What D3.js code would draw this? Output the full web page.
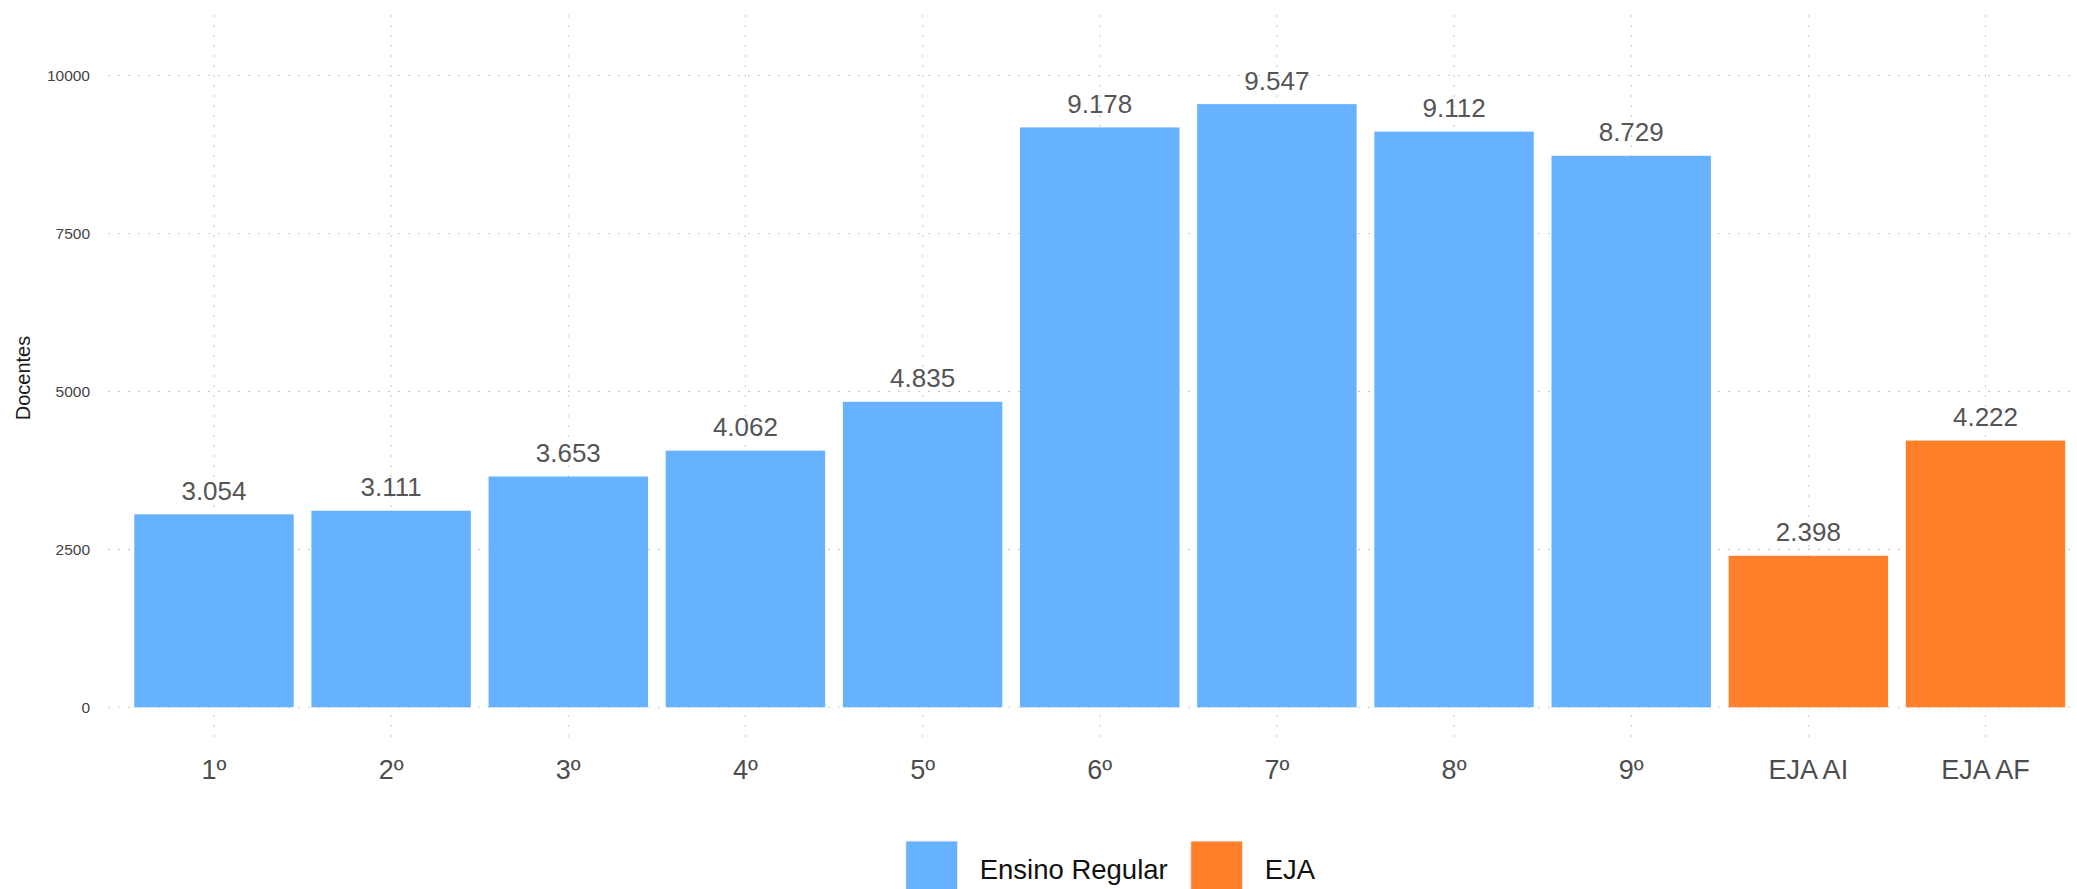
<html>
<head>
<meta charset="utf-8">
<style>
    body { margin: 0; background: #fff; }
    text { font-family: 'Liberation Sans', Arial, Helvetica, sans-serif; }
</style>
</head>
<body>
<div id="chart"></div>
<script src="https://cdn.jsdelivr.net/npm/d3@7"></script>
<script>
    // data
    var series = ['1º', '2º', '3º', '4º', '5º', '6º', '7º', '8º', '9º', 'EJA AI', 'EJA AF'];
    var docentes = [3054, 3111, 3653, 4062, 4835, 9178, 9547, 9112, 8729, 2398, 4222];
    var grupo = ['Ensino Regular', 'Ensino Regular', 'Ensino Regular', 'Ensino Regular', 'Ensino Regular',
                 'Ensino Regular', 'Ensino Regular', 'Ensino Regular', 'Ensino Regular', 'EJA', 'EJA'];
    var grupos = ['Ensino Regular', 'EJA'];
    var cores = ['#66b2ff', '#ff7f2a'];
    var y_ticks = [0, 2500, 5000, 7500, 10000];

    var width = 2077,
        height = 889,
        panel_left = 108,
        panel_top = 15,
        panel_bottom = 741;

    var rows = series.map(function(s, i){ return {serie: s, valor: docentes[i], grupo: grupo[i]}; });

    var clr = d3.scaleOrdinal().domain(grupos).range(cores);

    var x_scale = d3.scaleBand()
        .domain(series)
        .range([125.4, 2074.1])
        .paddingInner(0.1)
        .paddingOuter(0.05);

    var y_scale = d3.scaleLinear()
        .domain([0, 10000])
        .range([707.3, 75.5]);

    var br = d3.formatLocale({decimal: ',', thousands: '.', grouping: [3], currency: ['R$', '']});
    var fmt = br.format(',d');

    var svg = d3.select('#chart').append('svg')
        .attr('width', width)
        .attr('height', height);

    // grid
    svg.append('g').selectAll('line.hgrid')
        .data(y_ticks)
        .enter().append('line')
        .attr('class', 'hgrid')
        .attr('x1', panel_left).attr('x2', width)
        .attr('y1', function(d){ return y_scale(d); })
        .attr('y2', function(d){ return y_scale(d); })
        .attr('stroke', '#cccccc')
        .attr('stroke-width', 1.1)
        .attr('stroke-dasharray', '2,8');

    svg.append('g').selectAll('line.vgrid')
        .data(series)
        .enter().append('line')
        .attr('class', 'vgrid')
        .attr('x1', function(d){ return x_scale(d) + x_scale.bandwidth()/2; })
        .attr('x2', function(d){ return x_scale(d) + x_scale.bandwidth()/2; })
        .attr('y1', panel_top).attr('y2', panel_bottom)
        .attr('stroke', '#cccccc')
        .attr('stroke-width', 1.1)
        .attr('stroke-dasharray', '2,8');

    // bars
    svg.append('g').selectAll('rect.bar')
        .data(rows)
        .enter().append('rect')
        .attr('class', 'bar')
        .attr('x', function(d){ return x_scale(d.serie); })
        .attr('width', x_scale.bandwidth())
        .attr('y', function(d){ return y_scale(d.valor); })
        .attr('height', function(d){ return y_scale(0) - y_scale(d.valor); })
        .attr('fill', function(d){ return clr(d.grupo); });

    // value labels
    svg.append('g').selectAll('text.val')
        .data(rows)
        .enter().append('text')
        .attr('class', 'val')
        .attr('x', function(d){ return x_scale(d.serie) + x_scale.bandwidth()/2; })
        .attr('y', function(d){ return y_scale(d.valor) - 14.5; })
        .attr('text-anchor', 'middle')
        .attr('font-size', 26)
        .attr('fill', '#555555')
        .text(function(d){ return fmt(d.valor); });

    // y axis tick labels
    svg.append('g').selectAll('text.ytick')
        .data(y_ticks)
        .enter().append('text')
        .attr('class', 'ytick')
        .attr('x', 90)
        .attr('y', function(d){ return y_scale(d); })
        .attr('dy', '0.35em')
        .attr('text-anchor', 'end')
        .attr('font-size', 15.5)
        .attr('fill', '#444444')
        .text(function(d){ return d; });

    // x axis labels
    svg.append('g').selectAll('text.xtick')
        .data(series)
        .enter().append('text')
        .attr('class', 'xtick')
        .attr('x', function(d){ return x_scale(d) + x_scale.bandwidth()/2; })
        .attr('y', 779)
        .attr('text-anchor', 'middle')
        .attr('font-size', 27)
        .attr('fill', '#4d4d4d')
        .text(function(d){ return d; });

    svg.append('text')
        .attr('transform', 'translate(30,' + ((panel_top + panel_bottom)/2) + ') rotate(-90)')
        .attr('text-anchor', 'middle')
        .attr('font-size', 20)
        .attr('fill', '#1a1a1a')
        .text('Docentes');

    // legend
    var legend_x = [905.7, 1190.7];
    var legend = svg.append('g').selectAll('g.key')
        .data(grupos)
        .enter().append('g')
        .attr('class', 'key')
        .attr('transform', function(d, i){ return 'translate(' + legend_x[i] + ',841)'; });

    legend.append('rect')
        .attr('width', 52)
        .attr('height', 52)
        .attr('fill', function(d){ return clr(d); })
        .attr('stroke', '#f2f2f2')
        .attr('stroke-width', 1);

    legend.append('text')
        .attr('x', 74)
        .attr('y', 37.5)
        .attr('font-size', 27.5)
        .attr('fill', '#111111')
        .text(function(d){ return d; });
</script>
</body>
</html>
